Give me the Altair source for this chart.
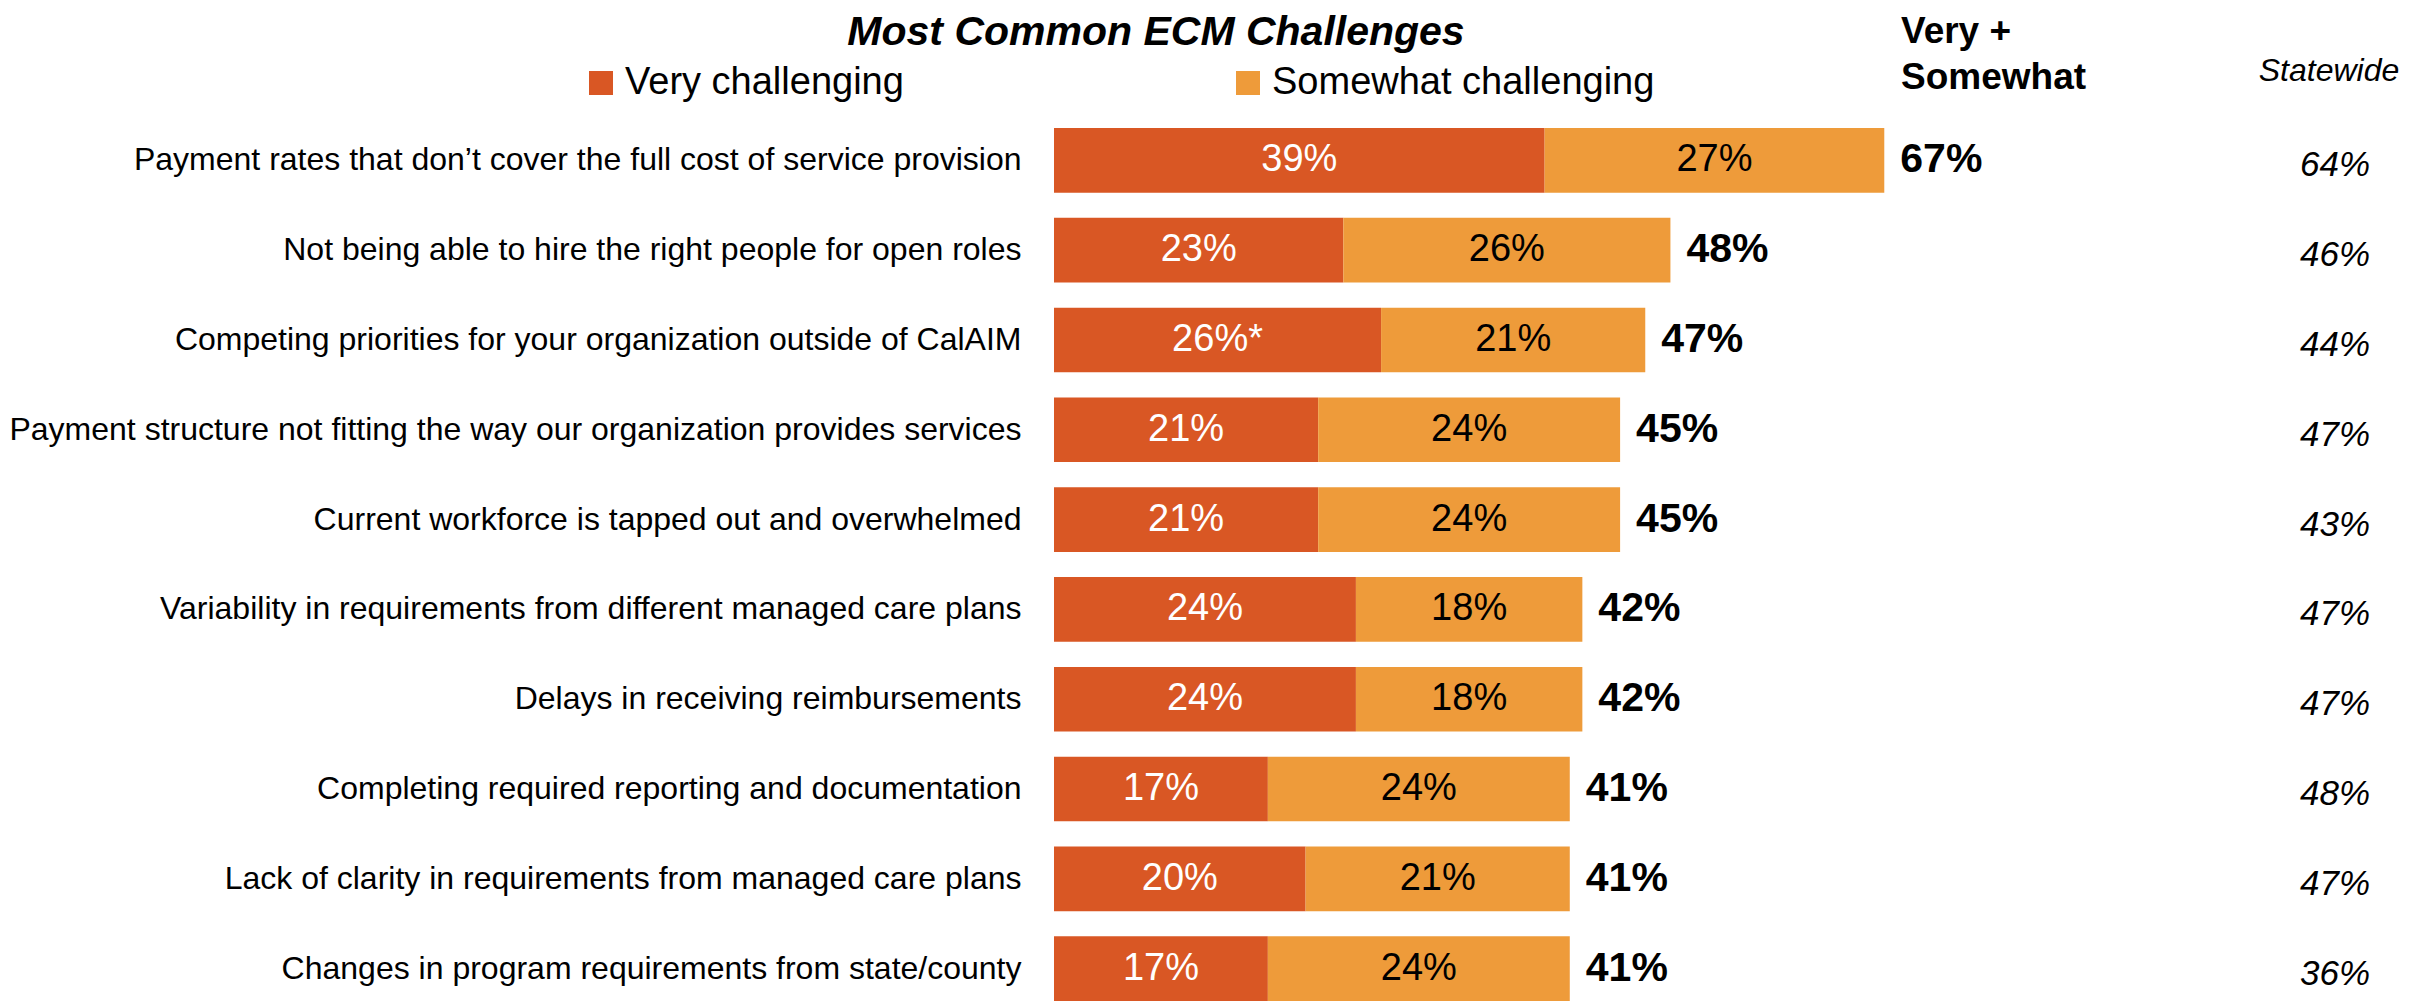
import altair as alt
import pandas as pd

FONT = "Liberation Sans"

title_text = "Most Common ECM Challenges"
series = ["Very challenging", "Somewhat challenging"]
colors = ["#D95724", "#EE9B3A"]

categories = [
    "Payment rates that don\u2019t cover the full cost of service provision",
    "Not being able to hire the right people for open roles",
    "Competing priorities for your organization outside of CalAIM",
    "Payment structure not fitting the way our organization provides services",
    "Current workforce is tapped out and overwhelmed",
    "Variability in requirements from different managed care plans",
    "Delays in receiving reimbursements",
    "Completing required reporting and documentation ",
    "Lack of clarity in requirements from managed care plans",
    "Changes in program requirements from state/county",
]
very = [39, 23, 26, 21, 21, 24, 24, 17, 20, 17]
very_labels = ["39%", "23%", "26%*", "21%", "21%", "24%", "24%", "17%", "20%", "17%"]
somewhat = [27, 26, 21, 24, 24, 18, 18, 24, 21, 24]
total = [67, 48, 47, 45, 45, 42, 42, 41, 41, 41]
statewide = [64, 46, 44, 47, 43, 47, 47, 48, 47, 36]

rows = []
for i, c in enumerate(categories):
    rows.append(dict(category=c, series=series[0], start=0, end=very[i],
                     mid=very[i] / 2, label=very_labels[i], tcolor="white"))
    rows.append(dict(category=c, series=series[1], start=very[i], end=very[i] + somewhat[i],
                     mid=very[i] + somewhat[i] / 2, label=f"{somewhat[i]}%", tcolor="black"))
bars = pd.DataFrame(rows)

summary = pd.DataFrame({
    "category": categories,
    "end": [v + s for v, s in zip(very, somewhat)],
    "total": [f"{t}%" for t in total],
    "statewide": [f"{s}%" for s in statewide],
})

y_enc = alt.Y(
    "category:N", sort=categories,
    scale=alt.Scale(paddingInner=0.28, paddingOuter=0),
    axis=alt.Axis(title=None, ticks=False, domain=False, grid=False, labelFontSize=32,
                  labelFont=FONT, labelColor="black", labelPadding=33, labelLimit=1500),
)
x_scale = alt.Scale(domain=[0, 100])

bar_layer = alt.Chart(bars).mark_bar().encode(
    y=y_enc,
    x=alt.X("start:Q", scale=x_scale, axis=None),
    x2="end:Q",
    color=alt.Color(
        "series:N",
        scale=alt.Scale(domain=series, range=colors),
        legend=alt.Legend(
            title=None, orient="none", direction="horizontal",
            legendX=-472, legendY=-64, padding=0,
            symbolType="square", symbolSize=576, symbolStrokeWidth=0,
            labelFontSize=38, labelFont=FONT, labelColor="black",
            labelOffset=5, columnPadding=325, labelLimit=800,
        ),
    ),
)

bar_text = alt.Chart(bars).mark_text(fontSize=38, font=FONT, baseline="middle").encode(
    y=alt.Y("category:N", sort=categories),
    x=alt.X("mid:Q", scale=x_scale, axis=None),
    text="label:N",
    color=alt.Color("tcolor:N", scale=None),
)

total_text = alt.Chart(summary).mark_text(
    fontSize=41, font=FONT, fontWeight="bold", align="left", dx=16, baseline="middle", color="black"
).encode(
    y=alt.Y("category:N", sort=categories),
    x=alt.X("end:Q", scale=x_scale, axis=None),
    text="total:N",
)

state_text = alt.Chart(summary).mark_text(
    fontSize=35, font=FONT, fontStyle="italic", align="center", dy=5, baseline="middle", color="black"
).encode(
    y=alt.Y("category:N", sort=categories),
    x=alt.value(1281),
    text="statewide:N",
)

def header(text, x, y, size, weight="normal", style="normal", align="left"):
    return alt.Chart(pd.DataFrame({"t": [text]})).mark_text(
        fontSize=size, font=FONT, fontWeight=weight, fontStyle=style,
        align=align, baseline="middle", color="black",
    ).encode(x=alt.value(x), y=alt.value(y), text="t:N")

title_layer = header(title_text, 102, -95, 41, weight="bold", style="italic", align="center")
vs1 = header("Very +", 847, -96, 37, weight="bold")
vs2 = header("Somewhat", 847, -50, 37, weight="bold")
sw = header("Statewide", 1275, -57, 32, style="italic", align="center")

chart = alt.layer(
    bar_layer, bar_text, total_text, state_text, title_layer, vs1, vs2, sw
).properties(
    width=1258, height=873,
    padding={"left": 1046, "top": 120, "right": 89, "bottom": 0},
    autosize=alt.AutoSizeParams(type="none"),
    background="white",
).configure(font=FONT).configure_view(stroke=None)

chart.save("out.html", embed_options={"renderer": "svg", "actions": False})
